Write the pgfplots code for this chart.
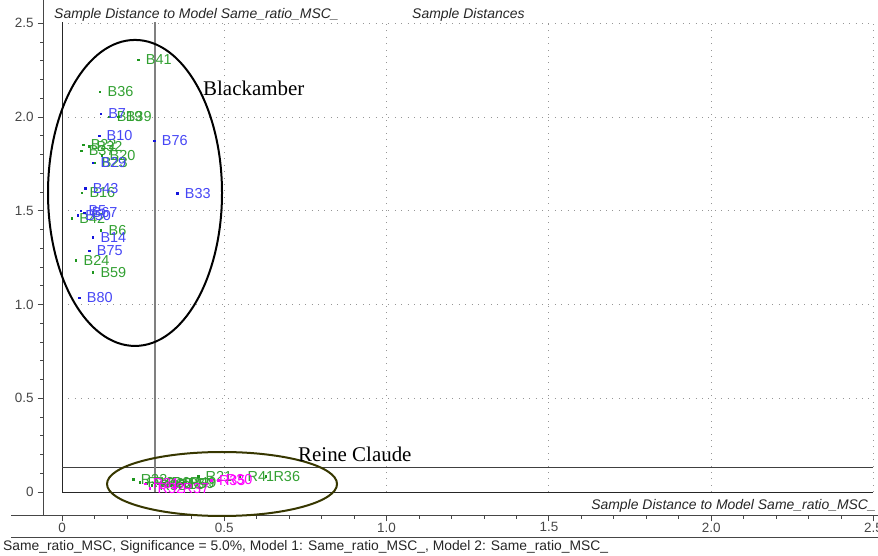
\documentclass[border=0pt]{standalone}
\usepackage{pgfplots}
\pgfplotsset{compat=1.18}
\usepackage{pgfplotstable}
\usepackage{fontspec}
\setmainfont{Liberation Sans}
\newfontfamily\seriffont{Liberation Serif}

\definecolor{ptgreen}{RGB}{30,150,30}
\definecolor{ptgreenlabel}{RGB}{50,160,50}
\definecolor{ptblue}{RGB}{20,20,220}
\definecolor{ptbluelabel}{RGB}{70,70,245}
\definecolor{ptmagenta}{RGB}{255,0,255}
\definecolor{ellolive}{RGB}{55,55,0}
\definecolor{axisgray}{RGB}{70,70,70}
\definecolor{gridgray}{RGB}{150,150,150}

% Blackamber samples
\pgfplotstableread{
x y label
0.235 2.304 B41
0.117 2.135 B36
0.145 2.000 B19
0.173 2.000 B39
0.065 1.851 B22
0.083 1.845 B32
0.059 1.819 B37
0.123 1.797 B20
0.099 1.755 B23
0.061 1.596 B16
0.030 1.460 B42
0.120 1.397 B6
0.043 1.237 B24
0.095 1.172 B59
}\bgreen

\pgfplotstableread{
x y label
0.119 2.016 B7
0.114 1.900 B10
0.284 1.872 B76
0.095 1.756 B29
0.071 1.620 B43
0.355 1.593 B33
0.058 1.500 B5
0.048 1.477 B50
0.068 1.488 B67
0.095 1.358 B14
0.084 1.287 B75
0.053 1.036 B80
}\bblue

% Reine Claude samples
\pgfplotstableread{
x y label
0.219 0.069 R33
0.240 0.053 R13
0.259 0.048 R45
0.277 0.037 R52
0.296 0.043 R60
0.314 0.048 R6
0.333 0.037 R15
0.351 0.043 R27
0.370 0.048 R49
0.364 0.043 R59
0.419 0.085 R21
0.548 0.085 R41
0.628 0.085 R36
}\rgreen

\pgfplotstableread{
x y label
0.271 0.021 R32
0.348 0.021 R37
0.256 0.043 R31
0.460 0.062 R35
0.481 0.064 R30
}\rmagenta

\pgfplotsset{
  sample labels/.style={
    only marks, mark=square*, mark size=0.7bp,
    nodes near coords, point meta=explicit symbolic,
    every node near coord/.append style={anchor=west, inner sep=0pt, xshift=7.5bp,
      font=\fontsize{14.5}{14.5}\selectfont, text=#1}},
}

\begin{document}
\begin{tikzpicture}
\useasboundingbox (0,0) rectangle (878bp,556bp);
\begin{axis}[
  at={(43.7bp,40.5bp)}, anchor=south west,
  scale only axis, width=834.3bp, height=515.5bp,
  xmin=-0.0564, xmax=2.514, ymin=-0.1253, ymax=2.624,
  axis x line=bottom, axis y line=left,
  x axis line style={-}, y axis line style={-},
  axis line style={draw=axisgray, line width=0.9bp},
  tick align=outside,
  major tick length=6bp, minor tick length=3.5bp,
  every tick/.style={draw=axisgray, line width=0.8bp},
  xtick={0,0.5,1,1.5,2,2.5}, xticklabels={0,0.5,1.0,1.5,2.0,2.5},
  ytick={0,0.5,1,1.5,2,2.5}, yticklabels={0,0.5,1.0,1.5,2.0,2.5},
  minor tick num=4,
  ticklabel style={font=\fontsize{13.5}{13.5}\selectfont, text=axisgray},
  /pgf/number format/assume math mode=true,
  xticklabel style={inner sep=0pt, yshift=-1bp},
  yticklabel style={inner sep=0pt, xshift=-4bp},
  clip=false,
]
% dotted reference grid
\pgfplotsinvokeforeach{0.5,1,1.5,2,2.5}{
  \draw[gridgray, line width=0.8bp, dash pattern=on 0.9bp off 5.5bp] (axis cs:#1,0) -- (axis cs:#1,2.507);
  \draw[gridgray, line width=0.8bp, dash pattern=on 0.9bp off 5.5bp] (axis cs:0,#1) -- (axis cs:2.5,#1);
}
% origin lines and critical limits
\draw[black!85, line width=0.9bp] (axis cs:0,0) -- (axis cs:0,2.507);
\draw[black!85, line width=0.9bp] (axis cs:0,0) -- (axis cs:2.5,0);
\draw[black!75, line width=0.9bp] (axis cs:0,0.132) -- (axis cs:2.5,0.132);
\draw[black!50, line width=1.3bp] (axis cs:0.2865,0) -- (axis cs:0.2865,2.507);
% left extension of the x axis line
\draw[axisgray, line width=0.9bp] (axis cs:-0.157,-0.1253) -- (axis cs:-0.0564,-0.1253);

\addplot[sample labels=ptgreenlabel, color=ptgreen] table[x=x, y=y, meta=label] {\bgreen};
\addplot[sample labels=ptbluelabel, color=ptblue] table[x=x, y=y, meta=label] {\bblue};
\addplot[sample labels=ptgreenlabel, color=ptgreen] table[x=x, y=y, meta=label] {\rgreen};
\addplot[sample labels=ptmagenta, color=ptmagenta] table[x=x, y=y, meta=label] {\rmagenta};

% group outlines
\draw[black, line width=2bp] (axis cs:0.2249,1.595) ellipse [x radius=87bp, y radius=153bp];
\draw[ellolive, line width=2bp] (axis cs:0.493,0.0427) ellipse [x radius=115bp, y radius=32bp];
\end{axis}

% titles and captions
\begin{scope}[every node/.style={inner sep=0pt, text=black!85}]
\node[anchor=base west, font=\fontsize{14}{14}\selectfont\itshape] at (54bp,537.5bp)
  {Sample Distance to Model Same\_ratio\_MSC\_};
\node[anchor=base west, font=\fontsize{14}{14}\selectfont\itshape] at (412bp,537.5bp)
  {Sample Distances};
\node[anchor=base east, font=\fontsize{14}{14}\selectfont\itshape] at (876bp,46bp)
  {Sample Distance to Model Same\_ratio\_MSC\_};
\node[anchor=base west, font=\fontsize{13.9}{14}\selectfont] at (3bp,6bp)
  {Same\_ratio\_MSC, Significance = 5.0\%, Model 1: Same\_ratio\_MSC\_, Model 2: Same\_ratio\_MSC\_};
\node[anchor=base west, font=\seriffont\fontsize{21}{21}\selectfont, text=black] at (203bp,460bp) {Blackamber};
\node[anchor=base west, font=\seriffont\fontsize{21}{21}\selectfont, text=black] at (298bp,94bp) {Reine Claude};
\end{scope}
\draw[axisgray, line width=0.9bp] (11bp,19bp) -- (878bp,19bp);
\end{tikzpicture}
\end{document}
